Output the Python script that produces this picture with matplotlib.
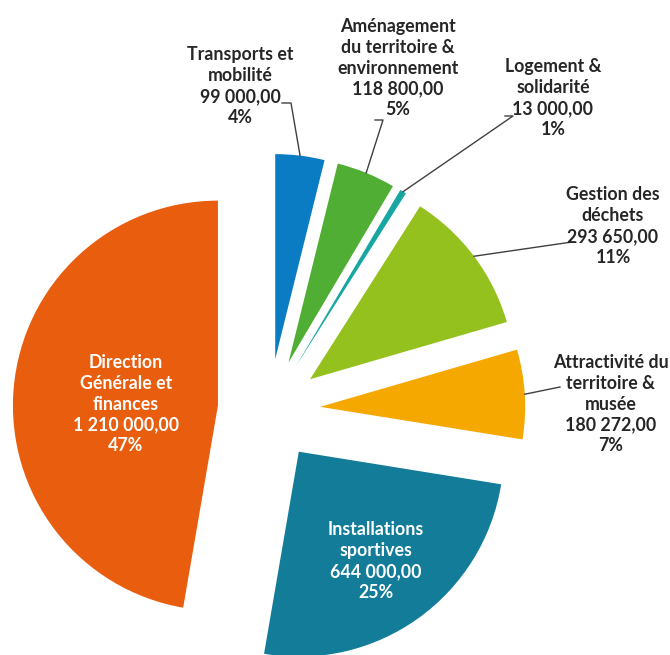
import numpy as np
import matplotlib
matplotlib.use("Agg")
from matplotlib import pyplot as plt

## budget par pôle
poles = ["Transports et\nmobilité", "Aménagement\ndu territoire &\nenvironnement",
         "Logement &\nsolidarité", "Gestion des\ndéchets",
         "Attractivité du\nterritoire &\nmusée", "Installations\nsportives",
         "Direction\nGénérale et\nfinances"]
montants = [99000.00, 118800.00, 13000.00, 293650.00, 180272.00, 644000.00, 1210000.00]
couleurs = ["#0a7cc4", "#4fae33", "#17a6a2", "#95c11f", "#f5a800", "#127c99", "#e85d0e"]

W, H = 670, 655
CX, CY, RPX = 269, 410, 205   # centre et rayon du camembert, en pixels

def px(x, y):   # pixel image -> coordonnées des axes
    return (x - CX) / RPX, (CY - y) / RPX

def fmt(v):
    s = "{:,.2f}".format(v)
    return s.replace(",", " ").replace(".", ",")

plt.rcParams['font.family'] = ['Lato', 'DejaVu Sans']

fig = plt.figure(figsize=(W / 100, H / 100), dpi=100)
ax = fig.add_axes([0, 0, 1, 1])
wedges, _ = ax.pie(montants, colors=couleurs, startangle=90, counterclock=False,
                   explode=[0.25] * len(montants), radius=1.0,
                   wedgeprops=dict(linewidth=0))
ax.set_xlim(-CX / RPX, (W - CX) / RPX)
ax.set_ylim(-(H - CY) / RPX, CY / RPX)
ax.set_aspect('equal')
ax.axis('off')

total = sum(montants)
textes = [p + "\n" + fmt(v) + "\n" + "{:.0f}%".format(100 * v / total)
          for p, v in zip(poles, montants)]

# position du texte (pixels), interieur ou non, coude de la ligne de rappel
pos_txt = [(240, 86), (398, 68), (553, 98), (613, 226), (611, 404), (376, 561), (126, 404)]
interieur = [False, False, False, False, False, True, True]
coudes = [[(291, 103), (282, 103)],
          [(383, 120), (375, 120)],
          [(513, 116), (505, 116)],
          [(565, 243), (573, 242)],
          [(560, 387)],
          None, None]

for w, t, (tx, ty), dedans, coude in zip(wedges, textes, pos_txt, interieur, coudes):
    x, y = px(tx, ty)
    ax.text(x, y, t, ha='center', va='center', multialignment='center',
            fontsize=12.8, fontweight='bold', linespacing=1.27,
            color='white' if dedans else '#262626')
    if coude:
        ang = np.deg2rad((w.theta1 + w.theta2) / 2)
        ax0 = w.center[0] + w.r * np.cos(ang)
        ay0 = w.center[1] + w.r * np.sin(ang)
        pts = [(ax0, ay0)] + [px(a, b) for a, b in coude]
        ax.plot([p[0] for p in pts], [p[1] for p in pts], color='#404040', lw=1)

fig.savefig("out.png", dpi=100)
